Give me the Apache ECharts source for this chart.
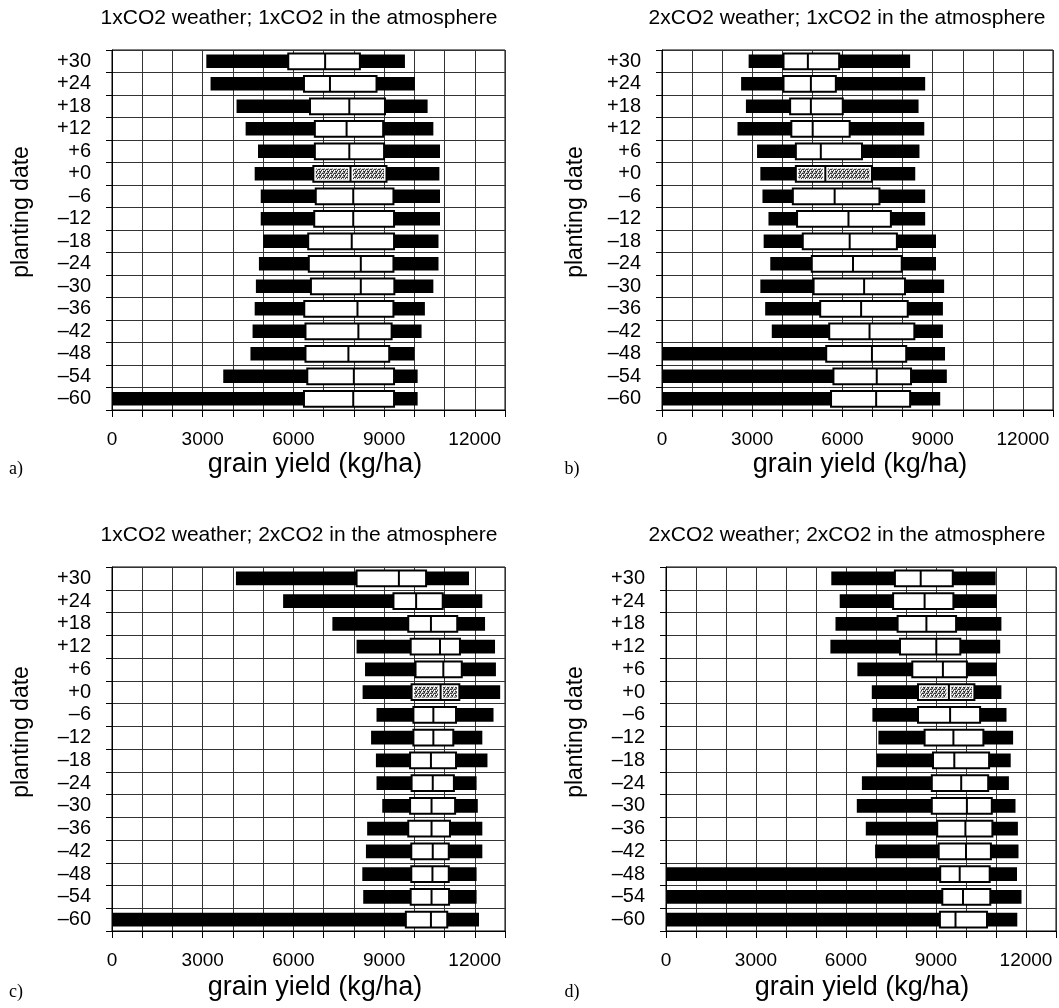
<!DOCTYPE html>
<html>
<head>
<meta charset="utf-8">
<title>grain yield by planting date</title>
<script src="https://cdn.jsdelivr.net/npm/echarts@6/dist/echarts.min.js"></script>
<style>
  html, body { margin: 0; padding: 0; background: #fff; }
  #chart { width: 1059px; height: 1008px; }
</style>
</head>
<body>
<div id="chart"></div>
<script>
// planting dates, top row first
const plantingDates = ['+30', '+24', '+18', '+12', '+6', '+0', '\u20136', '\u201312', '\u201318',
  '\u201324', '\u201330', '\u201336', '\u201342', '\u201348', '\u201354', '\u201360'];
const xTickLabels = [0, 3000, 6000, 9000, 12000];

// a) 1xCO2 weather; 1xCO2 in the atmosphere
const aMin = [3120, 3260, 4120, 4420, 4830, 4720, 4920, 4920, 5000, 4860, 4760, 4720, 4650, 4580, 3680, 0];
const aQ1  = [5830, 6350, 6550, 6710, 6710, 6660, 6740, 6690, 6490, 6510, 6580, 6360, 6400, 6400, 6460, 6350];
const aMed = [7050, 7210, 7850, 7760, 7850, 7890, 7980, 7980, 7930, 8230, 8230, 8120, 8150, 7820, 8000, 7980];
const aQ3  = [8200, 8750, 9030, 8970, 9000, 9080, 9310, 9330, 9330, 9310, 9340, 9310, 9250, 9170, 9330, 9330];
const aMax = [9690, 10020, 10440, 10630, 10850, 10830, 10850, 10850, 10800, 10800, 10630, 10350, 10240, 10000, 10110, 10110];

// b) 2xCO2 weather; 1xCO2 in the atmosphere
const bMin = [2880, 2630, 2790, 2510, 3160, 3270, 3340, 3540, 3380, 3600, 3270, 3430, 3650, 0, 0, 0];
const bQ1  = [4040, 4040, 4260, 4300, 4450, 4450, 4350, 4490, 4680, 4980, 5040, 5260, 5560, 5460, 5700, 5620];
const bMed = [4850, 4950, 4950, 5010, 5280, 5430, 5740, 6200, 6240, 6350, 6720, 6620, 6900, 6980, 7140, 7120];
const bQ3  = [5890, 5780, 6010, 6240, 6650, 6980, 7230, 7610, 7810, 7970, 8080, 8170, 8390, 8120, 8280, 8250];
const bMax = [8250, 8750, 8530, 8720, 8560, 8420, 8750, 8750, 9110, 9110, 9380, 9340, 9340, 9410, 9470, 9250];

// c) 1xCO2 weather; 2xCO2 in the atmosphere
const cMin = [4100, 5660, 7290, 8090, 8370, 8290, 8750, 8570, 8730, 8750, 8940, 8440, 8400, 8280, 8310, 0];
const cQ1  = [8090, 9310, 9800, 9880, 10040, 9910, 9970, 9970, 9860, 9910, 9860, 9800, 9900, 9900, 9880, 9720];
const cMed = [9490, 10060, 10550, 10850, 10960, 10870, 10630, 10630, 10550, 10610, 10570, 10570, 10610, 10600, 10570, 10550];
const cQ3  = [10390, 10940, 11420, 11510, 11570, 11490, 11380, 11290, 11380, 11310, 11350, 11180, 11140, 11140, 11150, 11090];
const cMax = [11810, 12250, 12340, 12670, 12700, 12840, 12620, 12250, 12420, 12060, 12100, 12250, 12250, 12060, 12060, 12140];

// d) 2xCO2 weather; 2xCO2 in the atmosphere
const dMin = [5510, 5790, 5650, 5480, 6380, 6860, 6880, 7080, 7020, 6530, 6360, 6660, 6970, 0, 0, 0];
const dQ1  = [7630, 7570, 7720, 7800, 8210, 8400, 8400, 8620, 8900, 8860, 8860, 9040, 9090, 9140, 9210, 9130];
const dMed = [8490, 8620, 8680, 9010, 9230, 9430, 9470, 9580, 9610, 9840, 10030, 9980, 10000, 9790, 9900, 9650];
const dQ3  = [9560, 9580, 9670, 9810, 10030, 10280, 10470, 10580, 10770, 10740, 10860, 10880, 10830, 10790, 10810, 10700];
const dMax = [10990, 11030, 11180, 11140, 11030, 11180, 11350, 11570, 11490, 11430, 11650, 11730, 11750, 11700, 11850, 11710];

const FONT = '"Liberation Sans", Arial, sans-serif';
const refRow = plantingDates.indexOf('+0'); // the shaded reference box

// small stipple tile for the +0 box
function makeStipple() {
    const c = document.createElement('canvas');
    c.width = 4; c.height = 4;
    const ctx = c.getContext('2d');
    ctx.fillStyle = '#a8a8a8';
    ctx.fillRect(0, 0, 4, 4);
    ctx.fillStyle = '#333';
    [[0, 0], [2, 1], [1, 2], [3, 3], [3, 1], [0, 3]].forEach(p => ctx.fillRect(p[0], p[1], 1, 1));
    ctx.fillStyle = '#fff';
    [[2, 3], [0, 2], [1, 0], [2, 2]].forEach(p => ctx.fillRect(p[0], p[1], 1, 1));
    return c;
}
const stipple = makeStipple();

function buildRows(mins, q1s, meds, q3s, maxs) {
    return plantingDates.map((_, i) => [i, mins[i], q1s[i], meds[i], q3s[i], maxs[i]]);
}

function renderBox(params, api) {
    const row = api.value(0);
    const lo = api.coord([api.value(1), row]);
    const q1 = api.coord([api.value(2), row])[0];
    const md = api.coord([api.value(3), row])[0];
    const q3 = api.coord([api.value(4), row])[0];
    const hi = api.coord([api.value(5), row])[0];
    const cy = lo[1];
    const band = api.size([0, 1])[1];
    const barH = band * 0.6;
    const boxH = band * 0.7;

    const children = [
        { type: 'rect', shape: { x: lo[0], y: cy - barH / 2, width: hi - lo[0], height: barH },
          style: { fill: '#000' } },
        { type: 'rect', shape: { x: q1, y: cy - boxH / 2, width: q3 - q1, height: boxH },
          style: { fill: '#fff', stroke: '#000', lineWidth: 2 } }
    ];
    if (row === refRow) {
        const ih = boxH - 5;
        children.push(
            { type: 'rect', shape: { x: q1 + 2.5, y: cy - ih / 2, width: md - q1 - 5, height: ih },
              style: { fill: { image: stipple, repeat: 'repeat' } } },
            { type: 'rect', shape: { x: md + 2.5, y: cy - ih / 2, width: q3 - md - 5, height: ih },
              style: { fill: { image: stipple, repeat: 'repeat' } } }
        );
    }
    children.push({ type: 'line', shape: { x1: md, y1: cy - boxH / 2, x2: md, y2: cy + boxH / 2 },
        style: { stroke: '#000', lineWidth: 2 } });
    return { type: 'group', children: children };
}

const panels = [
    { grid: { left: 112, top: 50, width: 393, height: 360 }, rows: buildRows(aMin, aQ1, aMed, aQ3, aMax),
      title: '1xCO2 weather; 1xCO2 in the atmosphere', titleX: 299, titleY: 18, nameX: 315, nameY: 465,
      ylabX: 22, ylabY: 212, tag: 'a)', tagX: 16, tagY: 469, labMargin: 21 },
    { grid: { left: 662, top: 50, width: 391, height: 360 }, rows: buildRows(bMin, bQ1, bMed, bQ3, bMax),
      title: '2xCO2 weather; 1xCO2 in the atmosphere', titleX: 847, titleY: 18, nameX: 860, nameY: 465,
      ylabX: 576, ylabY: 212, tag: 'b)', tagX: 572, tagY: 469, labMargin: 21 },
    { grid: { left: 112, top: 567, width: 393, height: 364 }, rows: buildRows(cMin, cQ1, cMed, cQ3, cMax),
      title: '1xCO2 weather; 2xCO2 in the atmosphere', titleX: 299, titleY: 535, nameX: 315, nameY: 988,
      ylabX: 22, ylabY: 732, tag: 'c)', tagX: 16, tagY: 992, labMargin: 21 },
    { grid: { left: 666, top: 567, width: 393, height: 364 }, rows: buildRows(dMin, dQ1, dMed, dQ3, dMax),
      title: '2xCO2 weather; 2xCO2 in the atmosphere', titleX: 847, titleY: 535, nameX: 862, nameY: 988,
      ylabX: 576, ylabY: 732, tag: 'd)', tagX: 572, tagY: 992, labMargin: 21 }
];

const chart = echarts.init(document.getElementById('chart'), null, { renderer: 'canvas' });

const graphics = [];
panels.forEach(p => {
    graphics.push(
        { type: 'text', x: p.titleX, y: p.titleY,
          style: { text: p.title, font: '21px ' + FONT, fill: '#000', textAlign: 'center', textVerticalAlign: 'middle' } },
        { type: 'text', x: p.nameX, y: p.nameY,
          style: { text: 'grain yield (kg/ha)', font: '27px ' + FONT, fill: '#000', textAlign: 'center', textVerticalAlign: 'middle' } },
        { type: 'text', x: p.ylabX, y: p.ylabY, rotation: Math.PI / 2,
          style: { text: 'planting date', font: '23px ' + FONT, fill: '#000', textAlign: 'center', textVerticalAlign: 'middle' } },
        { type: 'text', x: p.tagX, y: p.tagY,
          style: { text: p.tag, font: '18px "Liberation Serif", "Times New Roman", serif', fill: '#000', textAlign: 'center', textVerticalAlign: 'middle' } }
    );
});

const option = {
    backgroundColor: '#fff',
    animation: false,
    graphic: graphics,
    grid: panels.map(p => Object.assign({ show: true, borderColor: '#000', borderWidth: 1, containLabel: false }, p.grid)),
    xAxis: panels.map((p, i) => ({
        type: 'value',
        gridIndex: i,
        min: 0,
        max: 13000,
        interval: 1000,
        axisLine: { show: true, lineStyle: { color: '#000', width: 1 } },
        axisTick: { show: true, length: 7, lineStyle: { color: '#000' } },
        splitLine: { show: true, lineStyle: { color: '#333', width: 1 } },
        axisLabel: {
            color: '#000', fontSize: 19, fontFamily: FONT, margin: 20,
            formatter: v => xTickLabels.indexOf(v) >= 0 ? String(v) : ''
        }
    })),
    yAxis: panels.map((p, i) => ({
        type: 'category',
        gridIndex: i,
        inverse: true,
        data: plantingDates,
        axisLine: { show: true, lineStyle: { color: '#000', width: 1 } },
        axisTick: { show: true, length: 6, interval: 0, lineStyle: { color: '#000' } },
        splitLine: { show: true, interval: 0, lineStyle: { color: '#333', width: 1 } },
        axisLabel: { color: '#000', fontSize: 20, fontFamily: FONT, margin: p.labMargin, interval: 0 }
    })),
    series: panels.map((p, i) => ({
        type: 'custom',
        xAxisIndex: i,
        yAxisIndex: i,
        renderItem: renderBox,
        encode: { x: [1, 2, 3, 4, 5], y: 0 },
        data: p.rows,
        z: 5
    }))
};

chart.setOption(option);
</script>
</body>
</html>
